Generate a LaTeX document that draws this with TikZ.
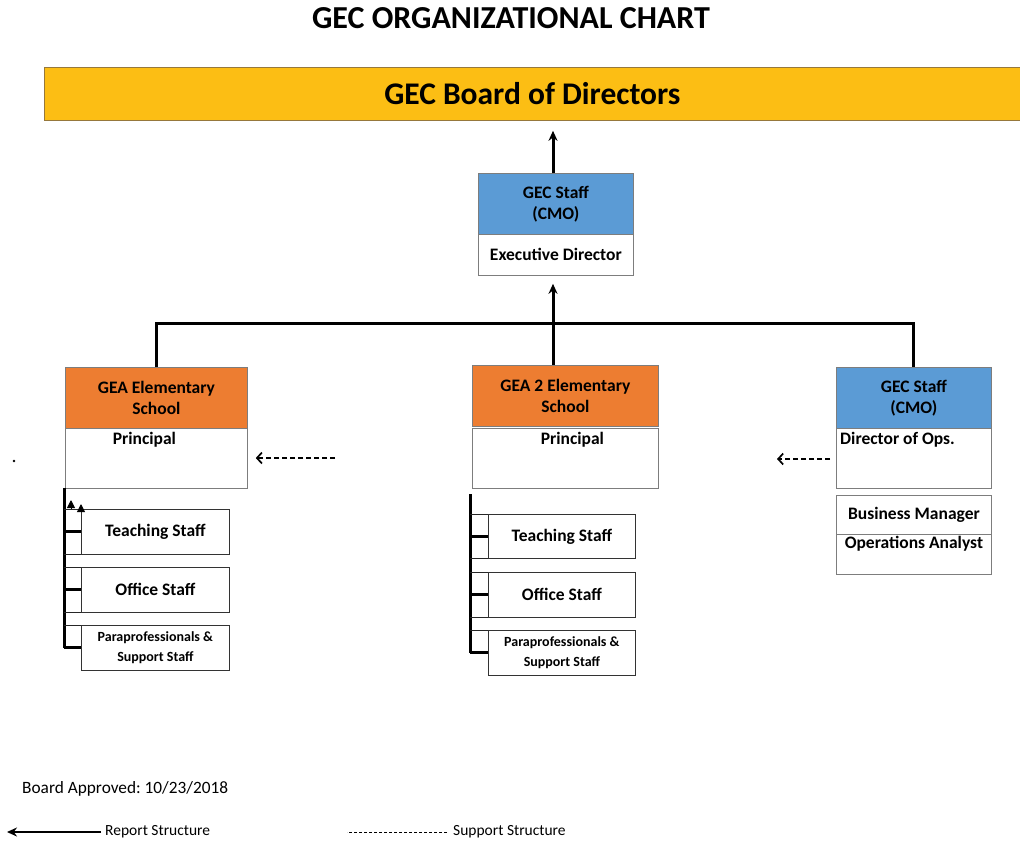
\documentclass[tikz,border=0pt]{standalone}
\usepackage{fontspec}
\setmainfont{Carlito}
\frenchspacing
\usetikzlibrary{arrows.meta,positioning}
\definecolor{board_gold}{RGB}{252,190,20}
\definecolor{head_blue}{RGB}{91,155,213}
\definecolor{head_orange}{RGB}{237,125,49}
\definecolor{edge_gray}{RGB}{125,125,125}
\definecolor{edge_brown}{RGB}{150,120,60}

\begin{document}
\begin{tikzpicture}[x=1pt,y=-1pt,>={Stealth[length=10pt,width=9pt]}]
    \tikzstyle{box}=[draw=edge_gray, line width=0.8pt, rectangle, anchor=north west, inner sep=0pt, align=center, text=black]
    \tikzstyle{headblue}=[style=box, fill=head_blue, font=\fontsize{17.5}{21}\selectfont\bfseries]
    \tikzstyle{headorange}=[style=box, fill=head_orange, font=\fontsize{17.5}{21}\selectfont\bfseries]
    \tikzstyle{body}=[style=box, fill=white, font=\fontsize{17.5}{20}\selectfont\bfseries]
    \tikzstyle{staff}=[style=box, draw=black!80, font=\fontsize{17.5}{20}\selectfont\bfseries]
    \tikzstyle{toplabel}=[anchor=north, inner sep=4pt, font=\fontsize{17.5}{20}\selectfont\bfseries]
    \tikzstyle{thinline}=[draw=black!85, line width=0.9pt]
    \tikzstyle{report}=[line width=3pt]
    \tikzstyle{support}=[line width=1.7pt, dash pattern=on 5pt off 3pt, -{Straight Barb[length=5pt,width=11pt]}]
    \tikzstyle{legend}=[anchor=west, inner sep=0pt, font=\fontsize{15.5}{17}\selectfont]

    \useasboundingbox (0,0) rectangle (1020,844);

    % title and board
    \node[font=\fontsize{32}{36}\selectfont\bfseries] (title) at (511,18) {GEC ORGANIZATIONAL CHART};
    \node[box, draw=edge_brown, fill=board_gold, minimum width=976pt, minimum height=53pt,
          font=\fontsize{31.5}{34}\selectfont\bfseries] (board) at (44,67) {GEC Board of Directors};

    % CMO
    \node[headblue, minimum width=155pt, minimum height=61pt] (cmohead) at (478,173) {GEC Staff\\(CMO)};
    \node[body, minimum width=155pt, minimum height=41pt]     (cmobody) at (478,234) {Executive Director};

    % schools and ops
    \node[headorange, minimum width=182pt, minimum height=61pt] (lhead) at (65,367)  {GEA Elementary\\School};
    \node[body, minimum width=182pt, minimum height=60pt,
          label={[toplabel, xshift=-12pt]north:Principal}]     (lbody) at (65,428)  {};
    \node[headorange, minimum width=186pt, minimum height=61pt] (mhead) at (472,365) {GEA 2 Elementary\\School};
    \node[body, minimum width=186pt, minimum height=60pt,
          label={[toplabel, xshift=7pt]north:Principal}]       (mbody) at (472,428) {};
    \node[headblue, minimum width=155pt, minimum height=61pt]   (rhead) at (836,367) {GEC Staff\\(CMO)};
    \node[body, minimum width=155pt, minimum height=60pt,
          label={[toplabel, anchor=north west]north west:Director of Ops.}] (rbody) at (836,428) {};

    % staff
    \node[staff, minimum width=148pt, minimum height=45pt] (lteach)  at (81,509) {Teaching Staff};
    \node[staff, minimum width=148pt, minimum height=45pt] (loffice) at (81,567) {Office Staff};
    \node[staff, minimum width=148pt, minimum height=45pt,
          font=\fontsize{14}{20}\selectfont\bfseries]     (lpara)   at (81,625) {Paraprofessionals \&\\Support Staff};
    \node[staff, minimum width=147pt, minimum height=44pt] (mteach)  at (488,514) {Teaching Staff};
    \node[staff, minimum width=147pt, minimum height=45pt] (moffice) at (488,572) {Office Staff};
    \node[staff, minimum width=147pt, minimum height=45pt,
          font=\fontsize{14}{20}\selectfont\bfseries]     (mpara)   at (488,630) {Paraprofessionals \&\\Support Staff};

    \node[body, minimum width=155pt, minimum height=39pt] (bizmgr) at (836,495) {Business Manager};
    \node[body, minimum width=155pt, minimum height=40pt,
          label={[toplabel, inner sep=2pt]north:Operations Analyst}] (opsan) at (836,534) {};

    % report lines
    \coordinate (junc) at (553,323);
    \draw[report,->,shorten >=10pt] (cmohead.north -| junc) -- (junc |- board.south);
    \draw[report,->,shorten >=8pt] (junc) -- (junc |- cmobody.south);
    \draw[report] (lhead.north) |- (junc) -| (rhead.north);
    \draw[report] (junc) -- (junc |- mhead.north);

    \coordinate (lspine) at (64,488);
    \coordinate (mspine) at (470,494);
    \draw[report] (lspine) -- (lspine |- lpara.west);
    \draw[report] (mspine) -- (mspine |- mpara.west);
    \foreach \s/\p in {lteach/lspine,loffice/lspine,lpara/lspine,mteach/mspine,moffice/mspine,mpara/mspine} {
      \draw[thinline] (\p |- \s.north) -- (\s.north west);
      \draw[report] (\p |- \s.west) -- (\s.west);
    }
    \foreach \s/\p in {lteach/lspine,loffice/lspine,mteach/mspine,moffice/mspine}
      \draw[thinline] (\p |- \s.south) -- (\s.south west);
    \draw[thinline,-{Triangle[length=8pt,width=8pt]},draw=black] (lteach.north west) -- ++(0,-5);
    \draw[thinline,-{Triangle[length=8pt,width=8pt]},draw=black] ([xshift=7pt]lspine |- lteach.north) -- ++(0,-9);

    % support lines
    \coordinate (lsup) at (335,458);
    \coordinate (rsup) at (830,459);
    \coordinate (rsupend) at (777,459);
    \draw[support] (lsup) -- ([xshift=8pt]lbody.east |- lsup);
    \draw[support] (rsup) -- (rsupend);
    \fill (14,461) circle (1.3);

    % footer
    \node[anchor=west, inner sep=0pt, font=\fontsize{17.3}{20}\selectfont] (approved) at (22,789) {Board Approved: 10/23/2018};
    \node[legend] (rs) at (105,832) {Report Structure};
    \node[legend] (ss) at (453,832) {Support Structure};
    \coordinate (rsend) at (7,832);
    \draw[line width=1.8pt,->] ([xshift=-4pt]rs.west) -- (rsend);
    \draw[densely dashed, line width=0.5pt] ([xshift=-6pt]ss.west) -- ++(-100,0);
\end{tikzpicture}
\end{document}
